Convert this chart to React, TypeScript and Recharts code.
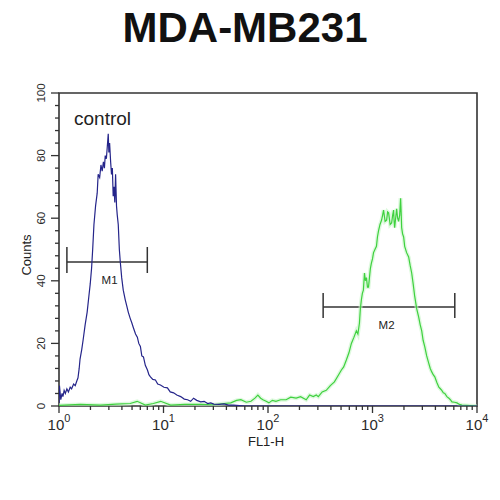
import React from 'react';
import { LineChart, Line, XAxis, YAxis, ReferenceLine, ReferenceArea, ReferenceDot } from 'recharts';

// ---- data ----
const controlFL = [1.0, 1.01, 1.04, 1.07, 1.09, 1.12, 1.15, 1.19, 1.23, 1.28, 1.32, 1.38, 1.43, 1.48, 1.52, 1.56, 1.59, 1.65, 1.7, 1.78, 1.86, 1.93, 1.99, 2.05, 2.1, 2.16, 2.24, 2.32, 2.37, 2.45, 2.52, 2.59, 2.66, 2.72, 2.77, 2.84, 2.9, 2.96, 3.0, 3.05, 3.12, 3.18, 3.24, 3.3, 3.36, 3.42, 3.48, 3.55, 3.61, 3.69, 3.78, 3.86, 3.98, 4.12, 4.3, 4.45, 4.6, 4.8, 4.98, 5.15, 5.4, 5.62, 5.8, 6.01, 6.2, 6.43, 6.7, 7.02, 7.25, 7.5, 7.9, 8.37, 8.8, 9.35, 10.1, 10.9, 11.6, 12.5, 13.4, 14.6, 15.8, 17.0, 18.2, 19.4, 20.8, 22.7, 24.5, 26.5, 28.3, 30.3, 34, 38, 42, 47, 60, 100, 1000, 10000];
const controlCounts = [1, 6.5, 2, 4, 3, 5, 4, 5.5, 4.5, 6, 5.5, 7, 6.5, 8, 9, 12, 15, 18, 21, 26, 30, 35, 39, 44, 50, 58, 64, 68, 74, 73, 77, 75, 78, 76, 80, 79, 83, 87, 81, 84, 78, 74, 76, 67, 70, 65, 74, 64, 61, 58, 50, 46, 41, 37, 34, 32, 30, 28, 26.5, 25, 23, 22, 20, 19, 16, 15.7, 13, 11.5, 10, 9.3, 8.5, 8.3, 7, 6.7, 6, 5.8, 4.5, 4.2, 3.5, 3, 2.2, 2, 1.5, 2.5, 1.8, 1.3, 1.5, 0.8, 1, 0.6, 0.5, 0.7, 0.3, 0.3, 0, 0, 0, 0];

const sampleFL = [1.0, 1.6, 2.5, 3.5, 4.8, 5.6, 6.7, 8.0, 9.4, 11.7, 16, 22.7, 30, 38, 44, 50, 55, 62, 68.7, 75, 80, 85, 89.5, 96, 102, 110, 119, 132, 149, 165, 186, 205, 232, 250, 271, 290, 303, 330, 361, 395, 432, 465, 504, 530, 562, 595, 628, 665, 701, 725, 750, 765, 783, 800, 818, 838, 855, 875, 895, 916, 935, 955, 977, 1000, 1023, 1055, 1091, 1115, 1143, 1180, 1222, 1250, 1276, 1320, 1365, 1395, 1426, 1475, 1524, 1560, 1592, 1610, 1629, 1665, 1702, 1740, 1778, 1820, 1858, 1880, 1901, 1940, 1986, 2032, 2120, 2218, 2290, 2371, 2450, 2535, 2650, 2767, 2858, 2958, 3050, 3162, 3300, 3451, 3570, 3690, 3810, 3945, 4130, 4315, 4460, 4603, 4760, 4920, 5150, 5383, 5560, 5754, 6100, 6427, 6800, 7178, 8000, 9900];
const sampleCounts = [0.2, 0.5, 0.3, 0.6, 0.8, 1.5, 0.3, 0.8, 1.5, 0.3, 0.5, 0.5, 0.4, 0.8, 1, 1.8, 2, 1.2, 1.5, 2.5, 3.5, 2.5, 2, 1.5, 1, 1.8, 1.5, 2, 2, 2.8, 2.5, 3, 2, 3.5, 3, 3.5, 3, 4.5, 5, 6.5, 7.7, 9.5, 11.5, 12.5, 14.7, 17, 20, 22, 24, 23, 26.5, 31, 34, 36, 37, 42.5, 40, 41, 38, 38, 41, 44, 45.7, 47, 49, 50, 51, 54, 56, 58, 59.4, 61, 62.6, 59, 59.4, 62, 61.7, 58, 58.5, 61, 62.6, 59, 57, 60, 63, 60, 59, 61, 66.4, 62, 57, 55, 54, 51, 49, 47.6, 45, 42.5, 39, 35, 31, 28.4, 26, 24, 21, 19, 16, 13.7, 12, 10.9, 10, 9.3, 7.5, 6, 5.5, 5, 4.2, 4, 3, 2.5, 2, 1.3, 1.2, 1, 0.5, 0.3, 0.2, 0];

const xMajorTicks = [1, 10, 100, 1000, 10000];
const xTickExponents = ['0', '1', '2', '3', '4'];
const xMinorTicks = [2, 3, 4, 5, 6, 7, 8, 9, 20, 30, 40, 50, 60, 70, 80, 90, 200, 300, 400, 500, 600, 700, 800, 900, 2000, 3000, 4000, 5000, 6000, 7000, 8000, 9000];
const yMajorTicks = [0, 20, 40, 60, 80, 100];
const yMinorTicks = [4, 8, 12, 16, 24, 28, 32, 36, 44, 48, 52, 56, 64, 68, 72, 76, 84, 88, 92, 96];

const markerNames = ['M1', 'M2'];
const markerFrom = [1.19, 337];
const markerTo = [7.0, 6130];
const markerLevel = [46, 31.6];
const markerLow = [42.5, 28.1];
const markerHigh = [50.8, 36.1];
const markerLabelFL = [3.05, 1364];
const markerLabelCount = [40.3, 25.9];

const title = 'MDA-MB231';
const controlLabel = 'control';
const xLabel = 'FL1-H';
const yLabel = 'Counts';

const controlData = controlFL.map((fl, i) => ({ fl, count: controlCounts[i] }));
const sampleData = sampleFL.map((fl, i) => ({ fl, count: sampleCounts[i] }));

const FONT = '"Liberation Sans", Arial, sans-serif';
const AXIS = '#333';

const XTick = (props: any) => {
  const { x, y, payload } = props;
  const idx = xMajorTicks.indexOf(payload.value);
  if (idx < 0) {
    return <line x1={x} x2={x} y1={y} y2={y + 4} stroke={AXIS} strokeWidth={1.3} />;
  }
  return (
    <g>
      <line x1={x} x2={x} y1={y} y2={y + 7} stroke={AXIS} strokeWidth={1.3} />
      <text x={x} y={y + 24} textAnchor="middle" fontFamily={FONT} fontSize={15} fill="#2a2a2a">
        <tspan>10</tspan>
        <tspan dy={-8} fontSize={11}>{xTickExponents[idx]}</tspan>
      </text>
    </g>
  );
};

const YTick = (props: any) => {
  const { x, y, payload } = props;
  const major = yMajorTicks.indexOf(payload.value) >= 0;
  if (!major) {
    return <line x1={x - 4} x2={x} y1={y} y2={y} stroke={AXIS} strokeWidth={1.3} />;
  }
  const tx = x - 14;
  return (
    <g>
      <line x1={x - 8} x2={x} y1={y} y2={y} stroke={AXIS} strokeWidth={1.3} />
      <text x={tx} y={y} transform={`rotate(-90, ${tx}, ${y})`} textAnchor="middle" fontFamily={FONT} fontSize={11.5} fill="#2a2a2a">
        {payload.value}
      </text>
    </g>
  );
};

export default function App() {
  return (
    <div style={{ position: 'absolute', left: 0, top: 0, width: 500, height: 500, background: '#fff' }}>
      <LineChart width={500} height={500} margin={{ top: 93, right: 23, left: 0, bottom: 44 }}>
        <XAxis
          dataKey="fl"
          type="number"
          scale="log"
          domain={[1, 10000]}
          allowDataOverflow
          ticks={[...xMajorTicks, ...xMinorTicks]}
          interval={0}
          tick={<XTick />}
          tickLine={false}
          tickSize={0}
          tickMargin={0}
          axisLine={false}
          height={50}
        />
        <YAxis
          type="number"
          domain={[0, 100]}
          allowDataOverflow
          ticks={[...yMajorTicks, ...yMinorTicks]}
          interval={0}
          tick={<YTick />}
          tickLine={false}
          tickSize={0}
          tickMargin={0}
          axisLine={false}
          width={59}
        />
        <ReferenceArea x1={1} x2={10000} y1={0} y2={100} fill="none" stroke={AXIS} strokeWidth={1.6} ifOverflow="visible" />
        {markerNames.map((n, i) => (
          <ReferenceLine key={n + 'h'} segment={[{ x: markerFrom[i], y: markerLevel[i] }, { x: markerTo[i], y: markerLevel[i] }]} stroke={AXIS} strokeWidth={1.5} />
        ))}
        {markerNames.map((n, i) => (
          <ReferenceLine key={n + 'a'} segment={[{ x: markerFrom[i], y: markerLow[i] }, { x: markerFrom[i], y: markerHigh[i] }]} stroke={AXIS} strokeWidth={1.5} />
        ))}
        {markerNames.map((n, i) => (
          <ReferenceLine key={n + 'b'} segment={[{ x: markerTo[i], y: markerLow[i] }, { x: markerTo[i], y: markerHigh[i] }]} stroke={AXIS} strokeWidth={1.5} />
        ))}
        {markerNames.map((n, i) => (
          <ReferenceDot key={n + 'l'} x={markerLabelFL[i]} y={markerLabelCount[i]} r={0} fill="none" stroke="none"
            label={{ value: n, position: 'center', fontSize: 11.5, fill: '#222', fontFamily: FONT }} />
        ))}
        <Line data={sampleData} dataKey="count" type="linear" stroke="#c8f5c8" strokeWidth={4} strokeOpacity={0.6} dot={false} isAnimationActive={false} />
        <Line data={sampleData} dataKey="count" type="linear" stroke="#3fd13f" strokeWidth={1.2} dot={false} isAnimationActive={false} />
        <Line data={controlData} dataKey="count" type="linear" stroke="#25258a" strokeWidth={1.2} dot={false} isAnimationActive={false} />
      </LineChart>
      <svg width={500} height={500} style={{ position: 'absolute', left: 0, top: 0, pointerEvents: 'none' }}>
        <text x={245} y={42} textAnchor="middle" fontFamily={FONT} fontWeight="bold" fontSize={42} fill="#111">{title}</text>
        <text x={74} y={125} fontFamily={FONT} fontSize={19} fill="#222">{controlLabel}</text>
        <text x={266} y={446} textAnchor="middle" fontFamily={FONT} fontSize={13} fill="#222">{xLabel}</text>
        <text x={31} y={255} transform="rotate(-90, 31, 255)" textAnchor="middle" fontFamily={FONT} fontSize={13} fill="#222">{yLabel}</text>
      </svg>
    </div>
  );
}
